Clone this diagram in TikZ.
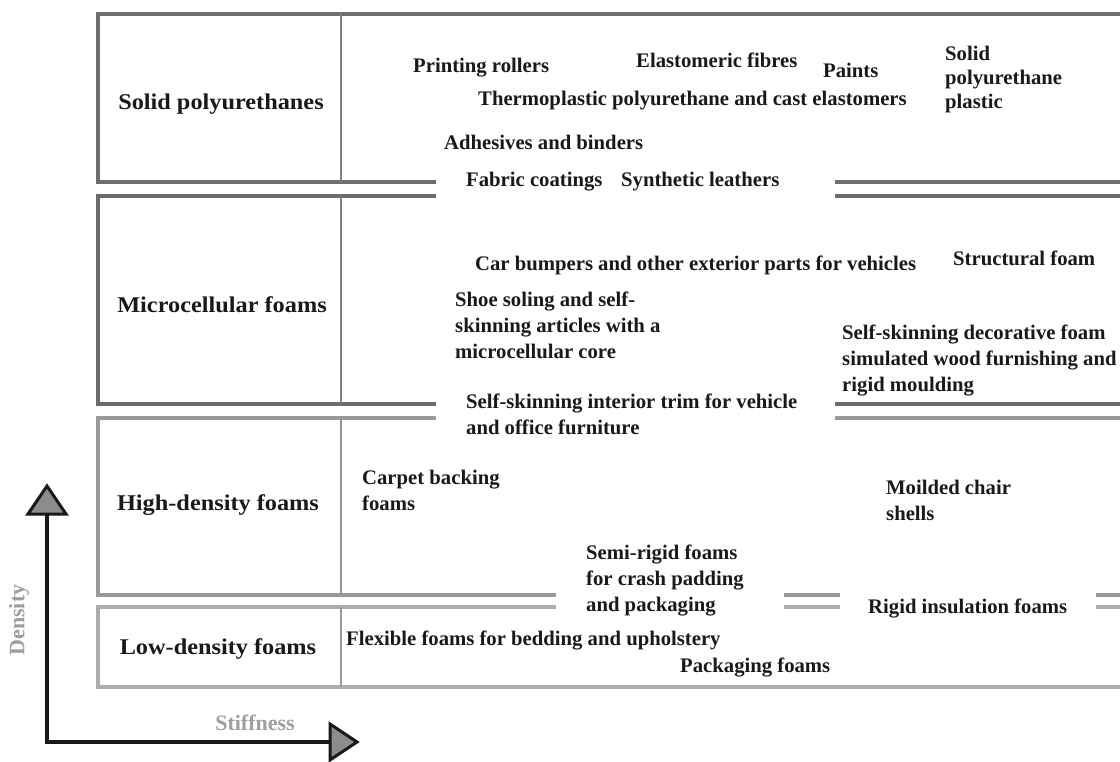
\documentclass[tikz,border=0pt]{standalone}
\usepackage{fontspec}
\setmainfont{Liberation Serif}
\newfontfamily\lblfont{Liberation Serif}[FakeStretch=1.08]
\begin{document}
\begin{tikzpicture}[x=1pt,y=-1pt,
  bandA/.style={line width=4pt,draw=black!57},
  bandB/.style={line width=4pt,draw=black!58},
  bandC/.style={line width=4pt,draw=black!40},
  bandD/.style={line width=4pt,draw=black!32},
  divline/.style={line width=2.5pt,draw=black!50},
  item/.style={font=\fontsize{20.7}{26}\selectfont\bfseries,text=black!90,inner sep=0pt,anchor=west,align=left},
  rowlabel/.style={font=\lblfont\fontsize{22.5}{27}\selectfont\bfseries,text=black!90,inner sep=0pt},
  axislabel/.style={font=\fontsize{22}{26}\selectfont\bfseries,text=black!38,inner sep=0pt},
  axisline/.style={line width=4pt,draw=black!90},
  tip/.style={line width=3pt,draw=black!90,fill=black!45,line join=miter}
]
\useasboundingbox (0,0) rectangle (1120,762);
% ---- band 1: solid polyurethanes
\draw[bandA] (1120,14) -- (98,14) -- (98,182) -- (436,182);
\draw[bandA] (835,182) -- (1120,182);
\draw[divline] (341,14) -- (341,182);
% ---- band 2: microcellular foams
\draw[bandB] (436,196) -- (98,196) -- (98,404) -- (436,404);
\draw[bandB] (835,196) -- (1120,196);
\draw[bandB] (835,404) -- (1120,404);
\draw[divline] (341,196) -- (341,404);
% ---- band 3: high-density foams
\draw[bandC] (436,418) -- (98,418) -- (98,595) -- (556,595);
\draw[bandC] (835,418) -- (1120,418);
\draw[bandC] (784,595) -- (840,595);
\draw[bandC] (1096,595) -- (1120,595);
\draw[divline,draw=black!42] (341,418) -- (341,595);
% ---- band 4: low-density foams
\draw[bandD] (556,607) -- (98,607) -- (98,687) -- (1120,687);
\draw[bandD] (784,607) -- (840,607);
\draw[bandD] (1096,607) -- (1120,607);
\draw[divline,draw=black!40] (341,607) -- (341,687);
% ---- row labels
\node[rowlabel] (r1) at (221,104) {Solid polyurethanes};
\node[rowlabel] (r2) at (222,305) {Microcellular foams};
\node[rowlabel] (r3) at (218,505) {High-density foams};
\node[rowlabel] (r4) at (218,649) {Low-density foams};
% ---- items
\node[item] (i1) at (413,68) {Printing rollers};
\node[item] (i2) at (636,60) {Elastomeric fibres};
\node[item] (i3) at (823,70) {Paints};
\node[item,font=\fontsize{20.7}{24}\selectfont\bfseries] (i4) at (945,80) {Solid\\polyurethane\\plastic};
\node[item] (i5) at (478,101) {Thermoplastic polyurethane and cast elastomers};
\node[item] (i6) at (444,142) {Adhesives and binders};
\node[item] (i7) at (466,182) {Fabric coatings};
\node[item] (i8) at (621,182) {Synthetic leathers};
\node[item] (i9) at (475,265) {Car bumpers and other exterior parts for vehicles};
\node[item] (i10) at (953,258) {Structural foam};
\node[item] (i11) at (455,325) {Shoe soling and self-\\skinning articles with a\\microcellular core};
\node[item] (i12) at (842,360) {Self-skinning decorative foam\\simulated wood furnishing and\\rigid moulding};
\node[item] (i13) at (466,414) {Self-skinning interior trim for vehicle\\and office furniture};
\node[item] (i14) at (362,490) {Carpet backing\\foams};
\node[item] (i15) at (886,500) {Moilded chair\\shells};
\node[item] (i16) at (586,580) {Semi-rigid foams\\for crash padding\\and packaging};
\node[item] (i17) at (868,608) {Rigid insulation foams};
\node[item] (i18) at (346,640) {Flexible foams for bedding and upholstery};
\node[item] (i19) at (680,667) {Packaging foams};
% ---- axes
\coordinate (o) at (47,742);
\coordinate (ytop) at (47,514);
\coordinate (xend) at (330,742);
\draw[axisline] (ytop) -- (o) -- (xend);
\draw[tip] (47,486) -- (66,514) -- (28,514) -- cycle;
\draw[tip] (357,742) -- (330,724) -- (330,760) -- cycle;
\node[axislabel] (ylab) at (19,620) [rotate=90] {Density};
\node[axislabel] (xlab) at (255,723) {Stiffness};
\end{tikzpicture}
\end{document}
